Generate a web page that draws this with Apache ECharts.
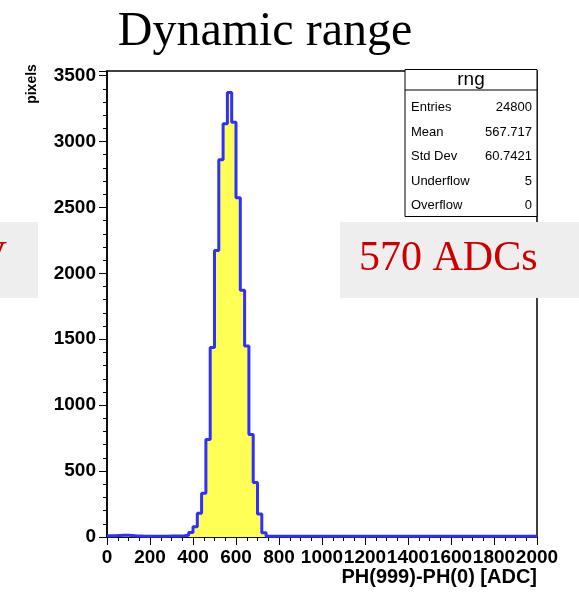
<!DOCTYPE html>
<html>
<head>
<meta charset="utf-8">
<script src="https://cdn.jsdelivr.net/npm/echarts@6/dist/echarts.min.js"></script>
<style>
  html, body { margin: 0; padding: 0; background: #ffffff; }
  #chart { width: 579px; height: 593px; }
</style>
</head>
<body>
<div id="chart"></div>
<script>
// ---- data ----
const binStart = 0;
const binWidth = 20;
// counts per 20-ADC bin, 0 .. 2000 (100 bins)
const counts = [
  9, 10, 12, 14, 13, 11, 8, 7, 6, 6,
  6, 6, 6, 6, 7, 7, 8, 10, 14, 35,
  78, 180, 331, 740, 1437, 2174, 2861, 3134, 3371, 3146,
  2573, 1871, 1449, 778, 414, 174, 33, 6, 5, 5,
  5, 5, 5, 5, 5, 5, 5, 5, 5, 5,
  5, 5, 5, 5, 5, 5, 5, 5, 5, 5,
  5, 5, 5, 5, 5, 5, 5, 5, 5, 5,
  5, 5, 5, 5, 5, 5, 5, 5, 5, 5,
  5, 5, 5, 5, 5, 5, 5, 5, 5, 5,
  5, 5, 5, 5, 5, 5, 5, 5, 5, 5
];
const xTicks = [0, 200, 400, 600, 800, 1000, 1200, 1400, 1600, 1800, 2000];
const yTicks = [0, 500, 1000, 1500, 2000, 2500, 3000, 3500];
const statsTitle = 'rng';
const statsLabels = ['Entries', 'Mean', 'Std Dev', 'Underflow', 'Overflow'];
const statsValues = ['24800', '567.717', '60.7421', '5', '0'];
const titleText = 'Dynamic range';
const xName = 'PH(999)-PH(0) [ADC]';
const yName = 'pixels';
const noteRight = '570 ADCs';
const noteLeft = 'V';

// ---- build step points from bins ----
const stepData = counts.map((c, i) => [binStart + i * binWidth, c]);
stepData.push([binStart + counts.length * binWidth, counts[counts.length - 1]]);

const sans = "'Liberation Sans', Arial, Helvetica, sans-serif";
const serif = "'Liberation Serif', 'Times New Roman', serif";

const chart = echarts.init(document.getElementById('chart'), null, { renderer: 'canvas' });

const graphics = [];
graphics.push({
  type: 'text', x: 265, y: 32, z: 100,
  style: { text: titleText, font: '48px ' + serif, fill: '#000', align: 'center', verticalAlign: 'middle' }
});
graphics.push({
  type: 'text', x: 32, y: 84, rotation: Math.PI / 2, z: 100,
  style: { text: yName, font: 'bold 14px ' + sans, fill: '#000', align: 'center', verticalAlign: 'middle' }
});
graphics.push({
  type: 'text', x: 537, y: 577, z: 100,
  style: { text: xName, font: 'bold 20px ' + sans, fill: '#000', align: 'right', verticalAlign: 'middle' }
});
// stats box
graphics.push({
  type: 'rect', z: 100,
  shape: { x: 405, y: 69.5, width: 132, height: 147 },
  style: { fill: '#fff', stroke: '#000', lineWidth: 1 }
});
graphics.push({
  type: 'line', z: 101,
  shape: { x1: 405, y1: 90, x2: 537, y2: 90 },
  style: { stroke: '#000', lineWidth: 1 }
});
graphics.push({
  type: 'text', x: 471, y: 80, z: 101,
  style: { text: statsTitle, font: '19px ' + sans, fill: '#000', align: 'center', verticalAlign: 'middle' }
});
const rowY = [107.5, 132, 156.5, 181, 205.5];
statsLabels.forEach((lab, i) => {
  graphics.push({
    type: 'text', x: 411, y: rowY[i], z: 101,
    style: { text: lab, font: '13px ' + sans, fill: '#000', align: 'left', verticalAlign: 'middle' }
  });
  graphics.push({
    type: 'text', x: 532, y: rowY[i], z: 101,
    style: { text: statsValues[i], font: '13px ' + sans, fill: '#000', align: 'right', verticalAlign: 'middle' }
  });
});
// grey note boxes
graphics.push({
  type: 'rect', z: 110,
  shape: { x: 340, y: 222, width: 250, height: 76 },
  style: { fill: '#eeeeee' }
});
graphics.push({
  type: 'text', x: 359, y: 259, z: 111,
  style: { text: noteRight, font: '42px ' + serif, fill: '#cc0000', align: 'left', verticalAlign: 'middle' }
});
graphics.push({
  type: 'rect', z: 110,
  shape: { x: -10, y: 222, width: 48, height: 76 },
  style: { fill: '#eeeeee' }
});
graphics.push({
  type: 'text', x: 7, y: 259, z: 111,
  style: { text: noteLeft, font: '42px ' + serif, fill: '#cc0000', align: 'right', verticalAlign: 'middle' }
});

const option = {
  animation: false,
  backgroundColor: '#ffffff',
  grid: {
    left: 107, right: 42, top: 71, bottom: 56,
    show: true, borderColor: '#000', borderWidth: 1.5, backgroundColor: 'transparent'
  },
  xAxis: {
    type: 'value',
    min: xTicks[0], max: xTicks[xTicks.length - 1], interval: xTicks[1] - xTicks[0],
    axisLine: { show: true, lineStyle: { color: '#000', width: 1.5 } },
    axisTick: { show: true, inside: false, length: 8, lineStyle: { color: '#000', width: 1 } },
    minorTick: { show: true, splitNumber: 4, length: 4, lineStyle: { color: '#000', width: 1 } },
    splitLine: { show: false },
    axisLabel: {
      margin: 11, color: '#000', fontFamily: sans, fontWeight: 'bold', fontSize: 19,
      hideOverlap: false,
      formatter: v => (xTicks.indexOf(v) >= 0 ? String(v) : '')
    }
  },
  yAxis: {
    type: 'value',
    min: yTicks[0], max: 3535, interval: yTicks[1] - yTicks[0],
    axisLine: { show: true, lineStyle: { color: '#000', width: 1.5 } },
    axisTick: { show: true, inside: false, length: 8, lineStyle: { color: '#000', width: 1 } },
    minorTick: { show: true, splitNumber: 5, length: 4, lineStyle: { color: '#000', width: 1 } },
    splitLine: { show: false },
    axisLabel: {
      margin: 11, color: '#000', fontFamily: sans, fontWeight: 'bold', fontSize: 19,
      formatter: v => (yTicks.indexOf(v) >= 0 ? String(v) : '')
    }
  },
  series: [{
    type: 'line',
    step: 'end',
    data: stepData,
    showSymbol: false,
    symbol: 'none',
    lineStyle: { color: '#2f2fff', width: 3 },
    areaStyle: { color: '#ffff55', opacity: 1 },
    z: 2
  }],
  graphic: { elements: graphics }
};
chart.setOption(option);
</script>
</body>
</html>
